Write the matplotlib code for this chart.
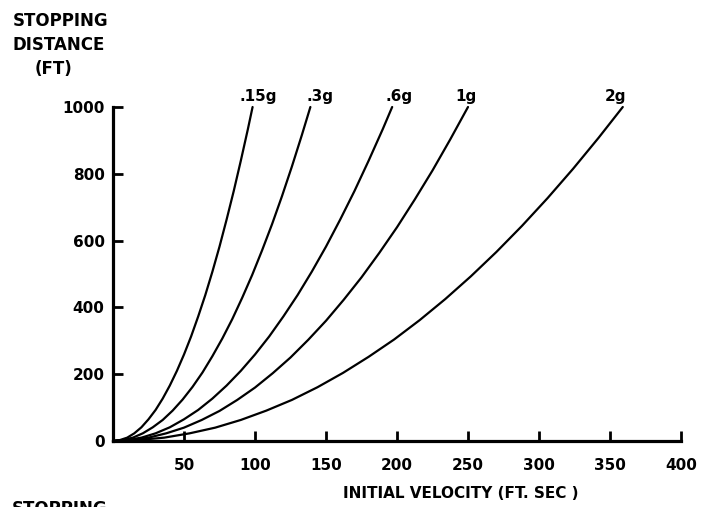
import matplotlib
matplotlib.use("Agg")
import matplotlib.pyplot as plt

# values (velocity ft/sec, stopping distance ft)
labels = [".15g", ".3g", ".6g", "1g", "2g"]

vel_015g = [0, 5, 10, 15, 20, 25, 30, 35, 40, 45, 50, 55, 60, 65, 70, 75, 80, 85, 90, 95, 98.3]
dist_015g = [0, 3, 10, 23, 41, 65, 93, 127, 166, 210, 259, 313, 373, 437, 507, 582, 663, 748, 839, 934, 1000]

vel_03g = [0, 7, 14, 21, 28, 35, 42, 49, 56, 63, 70, 77, 84, 91, 98, 105, 112, 119, 126, 133, 139]
dist_03g = [0, 3, 10, 23, 41, 63, 91, 124, 162, 205, 254, 307, 365, 429, 497, 571, 649, 733, 822, 916, 1000]

vel_06g = [0, 10, 20, 30, 40, 50, 60, 70, 80, 90, 100, 110, 120, 130, 140, 150, 160, 170, 180, 190, 196.6]
dist_06g = [0, 3, 10, 23, 41, 65, 93, 127, 166, 210, 259, 313, 373, 437, 507, 582, 663, 748, 839, 934, 1000]

vel_1g = [0, 12.5, 25, 37.5, 50, 62.5, 75, 87.5, 100, 112.5, 125, 137.5, 150, 162.5, 175,
          187.5, 200, 212.5, 225, 237.5, 250]
dist_1g = [0, 3, 10, 23, 40, 63, 90, 123, 160, 203, 250, 303, 360, 423, 490,
           563, 640, 723, 810, 903, 1000]

vel_2g = [0, 18, 36, 54, 72, 90, 108, 126, 144, 162, 180, 198, 216, 234, 252, 270,
          288, 306, 324, 342, 359]
dist_2g = [0, 3, 10, 23, 40, 63, 91, 123, 161, 204, 252, 304, 362, 425, 493, 566,
           644, 727, 815, 908, 1000]

x_ticks = [50, 100, 150, 200, 250, 300, 350, 400]
y_ticks = [0, 200, 400, 600, 800, 1000]

curves = [(vel_015g, dist_015g), (vel_03g, dist_03g), (vel_06g, dist_06g),
          (vel_1g, dist_1g), (vel_2g, dist_2g)]
# horizontal nudge of each curve label (points)
label_dx = [-9.5, -2.5, -5, -9, -13]

plt.rcParams["font.family"] = ["DejaVu Sans"]
plt.rcParams["font.weight"] = "bold"

fig = plt.figure(figsize=(7.07, 5.07), dpi=100)
ax = fig.add_axes([113 / 707, 1 - 441 / 507, (681 - 113) / 707, (441 - 107) / 507])

for (v, d), lab, dx in zip(curves, labels, label_dx):
    ax.plot(v, d, color="black", linewidth=1.6, clip_on=False,
            solid_joinstyle="round", solid_capstyle="round")
    ax.annotate(lab, xy=(v[-1], d[-1]), xytext=(dx, 4), textcoords="offset points",
                ha="left", va="baseline", fontsize=11, fontweight="bold")

ax.set_xlim(0, 400)
ax.set_ylim(0, 1000)

# only left/bottom axis lines, ticks pointing inward
for side in ["top", "right"]:
    ax.spines[side].set_visible(False)
for side in ["left", "bottom"]:
    ax.spines[side].set_linewidth(2.3)
    ax.spines[side].set_capstyle("projecting")

ax.set_xticks(x_ticks)
ax.set_yticks(y_ticks)
ax.set_xticklabels([str(t) for t in x_ticks])
ax.set_yticklabels([str(t) for t in y_ticks])
ax.tick_params(axis="both", direction="in", length=7, width=2, labelsize=11)
ax.tick_params(axis="x", pad=12)
ax.tick_params(axis="y", pad=6)
for lab in ax.get_xticklabels() + ax.get_yticklabels():
    lab.set_fontweight("bold")

# titles as loose text like the original figure
fig.text(13 / 707, 1 - 12 / 507, "STOPPING", ha="left", va="top", fontsize=12, fontweight="bold")
fig.text(13 / 707, 1 - 36 / 507, "DISTANCE", ha="left", va="top", fontsize=12, fontweight="bold")
fig.text(35 / 707, 1 - 60 / 507, "(FT)", ha="left", va="top", fontsize=12, fontweight="bold")
fig.text(461 / 707, 1 - 494 / 507, "INITIAL VELOCITY (FT. SEC )", ha="center", va="center",
         fontsize=11, fontweight="bold")
# next figure's heading, cut off at the bottom edge as in the scan
fig.text(12 / 707, 1 - 500 / 507, "STOPPING", ha="left", va="top", fontsize=12, fontweight="bold")

fig.savefig("out.png", dpi=100)
